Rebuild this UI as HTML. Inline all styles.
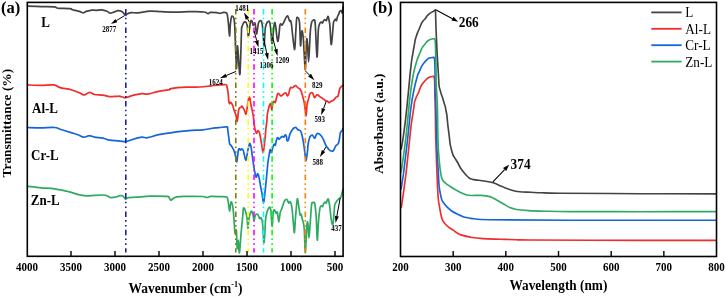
<!DOCTYPE html>
<html><head><meta charset="utf-8"><style>
html,body{margin:0;padding:0;background:#fff;}
body{width:725px;height:297px;overflow:hidden;}
svg{display:block;font-family:"Liberation Serif",serif;will-change:transform;}
</style></head><body>
<svg width="725" height="297" viewBox="0 0 725 297">
<g transform="translate(0,0.4)">
<path d="M27.50,186.00 C29.72,186.23 36.28,186.98 40.80,187.40 C45.32,187.82 50.00,187.85 54.60,188.50 C59.20,189.15 63.80,190.22 68.40,191.30 C73.00,192.38 78.75,194.32 82.20,195.00 C85.65,195.68 85.65,195.47 89.10,195.40 C92.55,195.33 99.68,194.50 102.90,194.60 C106.12,194.70 107.25,195.58 108.40,196.00 C109.55,196.42 108.65,196.97 109.80,197.10 C110.95,197.23 113.70,197.08 115.30,196.80 C116.90,196.52 118.13,195.62 119.40,195.40 C120.67,195.18 121.88,194.95 122.90,195.50 C123.92,196.05 124.60,198.40 125.50,198.70 C126.40,199.00 126.45,197.62 128.30,197.30 C130.15,196.98 132.93,197.07 136.60,196.80 C140.27,196.53 145.25,195.83 150.30,195.70 C155.35,195.57 163.78,195.77 166.90,196.00 C170.02,196.23 168.35,196.47 169.00,197.10 C169.65,197.73 170.23,199.53 170.80,199.80 C171.37,200.07 171.43,199.27 172.40,198.70 C173.37,198.13 174.30,196.85 176.60,196.40 C178.90,195.95 181.83,196.05 186.20,196.00 C190.57,195.95 199.35,195.92 202.80,196.10 C206.25,196.28 205.53,197.12 206.90,197.10 C208.27,197.08 208.82,196.15 211.00,196.00 C213.18,195.85 217.38,196.08 220.00,196.20 C222.62,196.32 225.35,195.90 226.70,196.70 C228.05,197.50 227.62,198.70 228.10,201.00 C228.58,203.30 229.20,210.00 229.60,210.50 C230.00,211.00 230.20,205.50 230.50,204.00 C230.80,202.50 231.00,201.02 231.40,201.50 C231.80,201.98 232.47,203.98 232.90,206.90 C233.33,209.82 233.68,214.93 234.00,219.00 C234.32,223.07 234.53,228.83 234.80,231.30 C235.07,233.77 235.33,234.02 235.60,233.80 C235.87,233.58 236.13,227.63 236.40,230.00 C236.67,232.37 236.90,246.33 237.20,248.00 C237.50,249.67 237.83,239.27 238.20,240.00 C238.57,240.73 238.93,253.43 239.40,252.40 C239.87,251.37 240.43,240.05 241.00,233.80 C241.57,227.55 242.38,219.27 242.80,214.90 C243.22,210.53 243.08,208.37 243.50,207.60 C243.92,206.83 244.72,208.68 245.30,210.30 C245.88,211.92 246.57,214.38 247.00,217.30 C247.43,220.22 247.60,227.52 247.90,227.80 C248.20,228.08 248.35,221.63 248.80,219.00 C249.25,216.37 250.07,213.32 250.60,212.00 C251.13,210.68 251.57,210.52 252.00,211.10 C252.43,211.68 252.85,213.98 253.20,215.50 C253.55,217.02 253.75,220.28 254.10,220.20 C254.45,220.12 254.72,216.07 255.30,215.00 C255.88,213.93 256.87,213.27 257.60,213.80 C258.33,214.33 259.12,217.62 259.70,218.20 C260.28,218.78 260.63,216.58 261.10,217.30 C261.57,218.02 262.03,218.42 262.50,222.50 C262.97,226.58 263.52,240.03 263.90,241.80 C264.28,243.57 264.52,236.90 264.80,233.10 C265.08,229.30 265.25,222.52 265.60,219.00 C265.95,215.48 266.45,213.75 266.90,212.00 C267.35,210.25 267.83,209.37 268.30,208.50 C268.77,207.63 269.27,206.50 269.70,206.80 C270.13,207.10 270.50,207.10 270.90,210.30 C271.30,213.50 271.72,225.72 272.10,226.00 C272.48,226.28 272.82,214.77 273.20,212.00 C273.58,209.23 273.90,209.25 274.40,209.40 C274.90,209.55 275.70,212.47 276.20,212.90 C276.70,213.33 276.97,210.53 277.40,212.00 C277.83,213.47 278.33,221.70 278.80,221.70 C279.27,221.70 279.77,214.05 280.20,212.00 C280.63,209.95 280.98,210.47 281.40,209.40 C281.82,208.33 282.17,207.12 282.70,205.60 C283.23,204.08 283.90,201.38 284.60,200.30 C285.30,199.22 286.22,198.72 286.90,199.10 C287.58,199.48 288.13,202.22 288.70,202.60 C289.27,202.98 289.77,200.65 290.30,201.40 C290.83,202.15 291.40,203.67 291.90,207.10 C292.40,210.53 292.88,217.80 293.30,222.00 C293.72,226.20 294.03,233.07 294.40,232.30 C294.77,231.53 295.07,222.75 295.50,217.40 C295.93,212.05 296.62,203.17 297.00,200.20 C297.38,197.23 297.45,198.22 297.80,199.60 C298.15,200.98 298.70,205.97 299.10,208.50 C299.50,211.03 299.85,213.93 300.20,214.80 C300.55,215.67 300.85,213.02 301.20,213.70 C301.55,214.38 301.95,217.52 302.30,218.90 C302.65,220.28 302.97,220.27 303.30,222.00 C303.63,223.73 303.95,224.25 304.30,229.30 C304.65,234.35 304.98,252.98 305.40,252.30 C305.82,251.62 306.38,230.07 306.80,225.20 C307.22,220.33 307.55,221.02 307.90,223.10 C308.25,225.18 308.52,237.70 308.90,237.70 C309.28,237.70 309.75,228.67 310.20,223.10 C310.65,217.53 311.12,207.77 311.60,204.30 C312.08,200.83 312.57,202.47 313.10,202.30 C313.63,202.13 314.28,200.88 314.80,203.30 C315.32,205.72 315.78,210.72 316.20,216.80 C316.62,222.88 316.92,239.10 317.30,239.80 C317.68,240.50 318.05,226.38 318.50,221.00 C318.95,215.62 319.52,210.10 320.00,207.50 C320.48,204.90 320.97,205.60 321.40,205.40 C321.83,205.20 322.25,206.62 322.60,206.30 C322.95,205.98 323.10,204.27 323.50,203.50 C323.90,202.73 324.53,201.85 325.00,201.70 C325.47,201.55 325.87,203.07 326.30,202.60 C326.73,202.13 327.20,199.37 327.60,198.90 C328.00,198.43 328.30,198.27 328.70,199.80 C329.10,201.33 329.63,205.32 330.00,208.10 C330.37,210.88 330.58,214.02 330.90,216.50 C331.22,218.98 331.58,221.77 331.90,223.00 C332.22,224.23 332.50,224.83 332.80,223.90 C333.10,222.97 333.40,220.48 333.70,217.40 C334.00,214.32 334.28,207.87 334.60,205.40 C334.92,202.93 335.13,203.53 335.60,202.60 C336.07,201.67 336.78,200.57 337.40,199.80 C338.02,199.03 338.68,198.62 339.30,198.00 C339.92,197.38 340.48,197.65 341.10,196.10 C341.72,194.55 342.68,189.93 343.00,188.70" fill="none" stroke="#2EAA63" stroke-width="1.7" stroke-linejoin="round" stroke-linecap="round"/>
<path d="M27.50,127.10 C29.72,127.15 36.28,127.40 40.80,127.40 C45.32,127.40 51.38,126.87 54.60,127.10 C57.82,127.33 57.35,127.95 60.10,128.80 C62.85,129.65 68.12,131.28 71.10,132.20 C74.08,133.12 75.92,133.53 78.00,134.30 C80.08,135.07 81.98,136.57 83.60,136.80 C85.22,137.03 86.57,135.93 87.70,135.70 C88.83,135.47 89.25,135.22 90.40,135.40 C91.55,135.58 92.52,136.40 94.60,136.80 C96.68,137.20 100.37,137.30 102.90,137.80 C105.43,138.30 107.28,139.35 109.80,139.80 C112.32,140.25 115.48,140.27 118.00,140.50 C120.52,140.73 123.53,141.08 124.90,141.20 C126.27,141.32 124.72,141.62 126.20,141.20 C127.68,140.78 131.15,139.43 133.80,138.70 C136.45,137.97 139.80,137.03 142.10,136.80 C144.40,136.57 144.85,137.72 147.60,137.30 C150.35,136.88 154.00,135.22 158.60,134.30 C163.20,133.38 171.52,132.37 175.20,131.80 C178.88,131.23 177.95,131.22 180.70,130.90 C183.45,130.58 188.02,130.13 191.70,129.90 C195.38,129.67 199.58,129.80 202.80,129.50 C206.02,129.20 208.70,128.45 211.00,128.10 C213.30,127.75 215.10,127.57 216.60,127.40 C218.10,127.23 218.27,127.25 220.00,127.10 C221.73,126.95 225.72,126.15 227.00,126.50 C228.28,126.85 227.40,127.40 227.70,129.20 C228.00,131.00 228.47,134.92 228.80,137.30 C229.13,139.68 229.32,142.20 229.70,143.50 C230.08,144.80 230.65,144.50 231.10,145.10 C231.55,145.70 231.95,146.32 232.40,147.10 C232.85,147.88 233.35,148.67 233.80,149.80 C234.25,150.93 234.73,152.43 235.10,153.90 C235.47,155.37 235.70,157.37 236.00,158.60 C236.30,159.83 236.60,162.08 236.90,161.30 C237.20,160.52 237.53,155.93 237.80,153.90 C238.07,151.87 238.22,150.00 238.50,149.10 C238.78,148.20 239.17,148.38 239.50,148.50 C239.83,148.62 240.12,149.80 240.50,149.80 C240.88,149.80 241.35,148.50 241.80,148.50 C242.25,148.50 242.75,148.68 243.20,149.80 C243.65,150.92 244.05,153.52 244.50,155.20 C244.95,156.88 245.48,159.90 245.90,159.90 C246.32,159.90 246.67,156.88 247.00,155.20 C247.33,153.52 247.57,151.48 247.90,149.80 C248.23,148.12 248.67,146.22 249.00,145.10 C249.33,143.98 249.58,142.98 249.90,143.10 C250.22,143.22 250.57,144.23 250.90,145.80 C251.23,147.37 251.55,150.03 251.90,152.50 C252.25,154.97 252.65,158.13 253.00,160.60 C253.35,163.07 253.60,164.93 254.00,167.30 C254.40,169.67 255.00,173.22 255.40,174.80 C255.80,176.38 256.07,177.02 256.40,176.80 C256.73,176.58 257.05,173.83 257.40,173.50 C257.75,173.17 258.17,173.90 258.50,174.80 C258.83,175.70 259.02,176.88 259.40,178.90 C259.78,180.92 260.35,184.43 260.80,186.90 C261.25,189.37 261.63,191.07 262.10,193.70 C262.57,196.33 263.15,202.70 263.60,202.70 C264.05,202.70 264.37,197.45 264.80,193.70 C265.23,189.95 265.78,184.47 266.20,180.20 C266.62,175.93 266.97,171.47 267.30,168.10 C267.63,164.73 267.83,162.63 268.20,160.00 C268.57,157.37 269.17,154.13 269.50,152.30 C269.83,150.47 269.93,149.00 270.20,149.00 C270.47,149.00 270.77,152.20 271.10,152.30 C271.43,152.40 271.85,150.72 272.20,149.60 C272.55,148.48 272.87,146.60 273.20,145.60 C273.53,144.60 273.85,143.72 274.20,143.60 C274.55,143.48 274.95,145.47 275.30,144.90 C275.65,144.33 275.92,141.48 276.30,140.20 C276.68,138.92 277.15,137.42 277.60,137.20 C278.05,136.98 278.48,138.90 279.00,138.90 C279.52,138.90 280.15,137.70 280.70,137.20 C281.25,136.70 281.80,135.97 282.30,135.90 C282.80,135.83 283.20,137.03 283.70,136.80 C284.20,136.57 284.85,134.60 285.30,134.50 C285.75,134.40 286.12,135.25 286.40,136.20 C286.68,137.15 286.67,139.65 287.00,140.20 C287.33,140.75 287.90,140.62 288.40,139.50 C288.90,138.38 289.32,135.25 290.00,133.50 C290.68,131.75 291.75,130.03 292.50,129.00 C293.25,127.97 293.92,127.63 294.50,127.30 C295.08,126.97 295.53,126.77 296.00,127.00 C296.47,127.23 296.85,128.25 297.30,128.70 C297.75,129.15 298.25,129.47 298.70,129.70 C299.15,129.93 299.62,129.82 300.00,130.10 C300.38,130.38 300.65,130.52 301.00,131.40 C301.35,132.28 301.75,133.93 302.10,135.40 C302.45,136.87 302.75,138.27 303.10,140.20 C303.45,142.13 303.85,144.53 304.20,147.00 C304.55,149.47 304.90,152.83 305.20,155.00 C305.50,157.17 305.73,159.83 306.00,160.00 C306.27,160.17 306.53,157.67 306.80,156.00 C307.07,154.33 307.38,152.00 307.60,150.00 C307.82,148.00 307.78,146.08 308.10,144.00 C308.42,141.92 309.05,138.93 309.50,137.50 C309.95,136.07 310.30,135.85 310.80,135.40 C311.30,134.95 312.00,134.57 312.50,134.80 C313.00,135.03 313.40,136.30 313.80,136.80 C314.20,137.30 314.55,138.08 314.90,137.80 C315.25,137.52 315.52,135.88 315.90,135.10 C316.28,134.32 316.70,133.38 317.20,133.10 C317.70,132.82 318.28,133.07 318.90,133.40 C319.52,133.73 320.28,134.42 320.90,135.10 C321.52,135.78 322.15,136.77 322.60,137.50 C323.05,138.23 323.10,138.35 323.60,139.50 C324.10,140.65 325.02,143.20 325.60,144.40 C326.18,145.60 326.60,145.95 327.10,146.70 C327.60,147.45 328.05,148.28 328.60,148.90 C329.15,149.52 329.78,150.10 330.40,150.40 C331.02,150.70 331.80,150.70 332.30,150.70 C332.80,150.70 333.03,150.83 333.40,150.40 C333.77,149.97 334.07,148.97 334.50,148.10 C334.93,147.23 335.50,145.87 336.00,145.20 C336.50,144.53 337.07,144.60 337.50,144.10 C337.93,143.60 338.30,142.97 338.60,142.20 C338.90,141.43 339.00,141.18 339.30,139.50 C339.60,137.82 339.98,133.57 340.40,132.10 C340.82,130.63 341.35,131.38 341.80,130.70 C342.25,130.02 342.88,128.45 343.10,128.00" fill="none" stroke="#1565DA" stroke-width="1.7" stroke-linejoin="round" stroke-linecap="round"/>
<path d="M27.50,84.50 C29.72,84.57 36.40,84.90 40.80,84.90 C45.20,84.90 50.68,84.12 53.90,84.50 C57.12,84.88 57.23,86.40 60.10,87.20 C62.97,88.00 67.88,88.45 71.10,89.30 C74.32,90.15 77.32,91.42 79.40,92.30 C81.48,93.18 82.22,94.52 83.60,94.60 C84.98,94.68 86.57,93.22 87.70,92.80 C88.83,92.38 89.25,91.88 90.40,92.10 C91.55,92.32 92.52,93.65 94.60,94.10 C96.68,94.55 100.37,94.45 102.90,94.80 C105.43,95.15 107.50,96.02 109.80,96.20 C112.10,96.38 115.00,95.95 116.70,95.90 C118.40,95.85 118.85,95.73 120.00,95.90 C121.15,96.07 122.68,96.67 123.60,96.90 C124.52,97.13 123.80,97.65 125.50,97.30 C127.20,96.95 131.03,95.48 133.80,94.80 C136.57,94.12 139.80,93.38 142.10,93.20 C144.40,93.02 144.85,94.07 147.60,93.70 C150.35,93.33 154.92,91.73 158.60,91.00 C162.28,90.27 167.63,89.77 169.70,89.30 C171.77,88.83 168.25,88.62 171.00,88.20 C173.75,87.78 181.37,87.07 186.20,86.80 C191.03,86.53 195.87,86.83 200.00,86.60 C204.13,86.37 207.67,85.75 211.00,85.40 C214.33,85.05 217.48,84.67 220.00,84.50 C222.52,84.33 224.93,84.08 226.10,84.40 C227.27,84.72 226.67,85.05 227.00,86.40 C227.33,87.75 227.80,90.13 228.10,92.50 C228.40,94.87 228.58,98.80 228.80,100.60 C229.02,102.40 229.12,103.08 229.40,103.30 C229.68,103.52 230.17,102.02 230.50,101.90 C230.83,101.78 231.02,102.03 231.40,102.60 C231.78,103.17 232.35,104.07 232.80,105.30 C233.25,106.53 233.65,108.65 234.10,110.00 C234.55,111.35 235.12,112.22 235.50,113.40 C235.88,114.58 236.13,115.80 236.40,117.10 C236.67,118.40 236.87,121.20 237.10,121.20 C237.33,121.20 237.57,118.90 237.80,117.10 C238.03,115.30 238.22,111.97 238.50,110.40 C238.78,108.83 239.10,108.27 239.50,107.70 C239.90,107.13 240.52,107.33 240.90,107.00 C241.28,106.67 241.42,105.58 241.80,105.70 C242.18,105.82 242.68,106.80 243.20,107.70 C243.72,108.60 244.45,110.08 244.90,111.10 C245.35,112.12 245.58,113.92 245.90,113.80 C246.22,113.68 246.47,112.38 246.80,110.40 C247.13,108.42 247.53,104.10 247.90,101.90 C248.27,99.70 248.67,97.87 249.00,97.20 C249.33,96.53 249.57,96.67 249.90,97.90 C250.23,99.13 250.65,102.75 251.00,104.60 C251.35,106.45 251.62,107.13 252.00,109.00 C252.38,110.87 252.97,113.55 253.30,115.80 C253.63,118.05 253.73,120.37 254.00,122.50 C254.27,124.63 254.57,127.03 254.90,128.60 C255.23,130.17 255.70,131.20 256.00,131.90 C256.30,132.60 256.35,133.10 256.70,132.80 C257.05,132.50 257.65,130.22 258.10,130.10 C258.55,129.98 258.95,130.63 259.40,132.10 C259.85,133.57 260.35,136.43 260.80,138.90 C261.25,141.37 261.72,144.67 262.10,146.90 C262.48,149.13 262.77,152.30 263.10,152.30 C263.43,152.30 263.77,149.37 264.10,146.90 C264.43,144.43 264.80,140.63 265.10,137.50 C265.40,134.37 265.62,130.80 265.90,128.10 C266.18,125.40 266.55,123.70 266.80,121.30 C267.05,118.90 267.12,115.87 267.40,113.70 C267.68,111.53 268.10,109.88 268.50,108.30 C268.90,106.72 269.40,104.98 269.80,104.20 C270.20,103.42 270.57,102.70 270.90,103.60 C271.23,104.50 271.48,109.72 271.80,109.60 C272.12,109.48 272.45,104.35 272.80,102.90 C273.15,101.45 273.50,101.02 273.90,100.90 C274.30,100.78 274.80,102.65 275.20,102.20 C275.60,101.75 275.90,99.65 276.30,98.20 C276.70,96.75 277.15,94.28 277.60,93.50 C278.05,92.72 278.50,93.17 279.00,93.50 C279.50,93.83 280.00,95.33 280.60,95.50 C281.20,95.67 281.93,94.95 282.60,94.50 C283.27,94.05 284.03,93.08 284.60,92.80 C285.17,92.52 285.55,92.35 286.00,92.80 C286.45,93.25 286.85,95.38 287.30,95.50 C287.75,95.62 288.20,94.85 288.70,93.50 C289.20,92.15 289.75,88.42 290.30,87.40 C290.85,86.38 291.48,87.52 292.00,87.40 C292.52,87.28 292.90,87.05 293.40,86.70 C293.90,86.35 294.57,85.53 295.00,85.30 C295.43,85.07 295.50,84.95 296.00,85.30 C296.50,85.65 297.33,86.83 298.00,87.40 C298.67,87.97 299.43,88.03 300.00,88.70 C300.57,89.37 300.95,90.17 301.40,91.40 C301.85,92.63 302.25,94.42 302.70,96.10 C303.15,97.78 303.70,99.52 304.10,101.50 C304.50,103.48 304.80,105.67 305.10,108.00 C305.40,110.33 305.67,115.00 305.90,115.50 C306.13,116.00 306.30,112.92 306.50,111.00 C306.70,109.08 306.77,106.03 307.10,104.00 C307.43,101.97 308.10,100.33 308.50,98.80 C308.90,97.27 309.17,95.80 309.50,94.80 C309.83,93.80 310.05,93.20 310.50,92.80 C310.95,92.40 311.75,92.18 312.20,92.40 C312.65,92.62 312.82,93.32 313.20,94.10 C313.58,94.88 314.12,96.77 314.50,97.10 C314.88,97.43 315.10,96.55 315.50,96.10 C315.90,95.65 316.45,94.62 316.90,94.40 C317.35,94.18 317.65,94.45 318.20,94.80 C318.75,95.15 319.52,96.00 320.20,96.50 C320.88,97.00 321.62,97.35 322.30,97.80 C322.98,98.25 323.68,98.70 324.30,99.20 C324.92,99.70 325.50,100.58 326.00,100.80 C326.50,101.02 326.80,100.27 327.30,100.50 C327.80,100.73 328.38,102.15 329.00,102.20 C329.62,102.25 330.33,101.13 331.00,100.80 C331.67,100.47 332.38,100.58 333.00,100.20 C333.62,99.82 334.13,99.12 334.70,98.50 C335.27,97.88 335.88,96.90 336.40,96.50 C336.92,96.10 337.40,96.72 337.80,96.10 C338.20,95.48 338.47,94.15 338.80,92.80 C339.13,91.45 339.35,89.13 339.80,88.00 C340.25,86.87 340.95,86.55 341.50,86.00 C342.05,85.45 342.83,84.92 343.10,84.70" fill="none" stroke="#F22B2B" stroke-width="1.7" stroke-linejoin="round" stroke-linecap="round"/>
<path d="M27.50,5.70 C29.75,5.78 36.48,6.07 41.00,6.20 C45.52,6.33 52.02,6.30 54.60,6.50 C57.18,6.70 55.68,7.17 56.50,7.40 C57.32,7.63 57.25,7.77 59.50,7.90 C61.75,8.03 67.83,7.95 70.00,8.20 C72.17,8.45 71.62,9.10 72.50,9.40 C73.38,9.70 74.15,9.73 75.30,10.00 C76.45,10.27 78.13,10.60 79.40,11.00 C80.67,11.40 81.75,12.40 82.90,12.40 C84.05,12.40 84.82,11.45 86.30,11.00 C87.78,10.55 90.18,9.88 91.80,9.70 C93.42,9.52 94.38,9.95 96.00,9.90 C97.62,9.85 99.67,9.25 101.50,9.40 C103.33,9.55 105.62,10.25 107.00,10.80 C108.38,11.35 108.65,12.55 109.80,12.70 C110.95,12.85 112.53,12.10 113.90,11.70 C115.27,11.30 116.62,10.37 118.00,10.30 C119.38,10.23 121.17,10.77 122.20,11.30 C123.23,11.83 123.65,12.88 124.20,13.50 C124.75,14.12 125.03,14.98 125.50,15.00 C125.97,15.02 126.08,14.05 127.00,13.60 C127.92,13.15 129.18,12.50 131.00,12.30 C132.82,12.10 134.68,12.65 137.90,12.40 C141.12,12.15 146.38,10.98 150.30,10.80 C154.22,10.62 157.25,11.15 161.40,11.30 C165.55,11.45 170.60,11.72 175.20,11.70 C179.80,11.68 185.53,11.27 189.00,11.20 C192.47,11.13 193.53,11.23 196.00,11.30 C198.47,11.37 202.13,11.47 203.80,11.60 C205.47,11.73 205.27,11.82 206.00,12.10 C206.73,12.38 207.45,13.32 208.20,13.30 C208.95,13.28 209.12,12.18 210.50,12.00 C211.88,11.82 214.95,12.05 216.50,12.20 C218.05,12.35 218.80,12.90 219.80,12.90 C220.80,12.90 221.57,12.32 222.50,12.20 C223.43,12.08 224.63,11.98 225.40,12.20 C226.17,12.42 226.62,11.87 227.10,13.50 C227.58,15.13 227.90,18.33 228.30,22.00 C228.70,25.67 229.17,35.08 229.50,35.50 C229.83,35.92 229.98,27.62 230.30,24.50 C230.62,21.38 230.98,18.23 231.40,16.80 C231.82,15.37 232.35,15.55 232.80,15.90 C233.25,16.25 233.77,17.07 234.10,18.90 C234.43,20.73 234.57,22.42 234.80,26.90 C235.03,31.38 235.22,38.95 235.50,45.80 C235.78,52.65 236.20,67.80 236.50,68.00 C236.80,68.20 237.05,50.00 237.30,47.00 C237.55,44.00 237.60,45.50 238.00,50.00 C238.40,54.50 239.27,72.33 239.70,74.00 C240.13,75.67 240.30,67.33 240.60,60.00 C240.90,52.67 241.28,35.52 241.50,30.00 C241.72,24.48 241.60,28.08 241.90,26.90 C242.20,25.72 242.80,23.80 243.30,22.90 C243.80,22.00 244.42,21.62 244.90,21.50 C245.38,21.38 245.80,21.52 246.20,22.20 C246.60,22.88 247.02,23.92 247.30,25.60 C247.58,27.28 247.72,30.50 247.90,32.30 C248.08,34.10 248.18,36.62 248.40,36.40 C248.62,36.18 248.90,33.23 249.20,31.00 C249.50,28.77 249.88,24.82 250.20,23.00 C250.52,21.18 250.77,20.35 251.10,20.10 C251.43,19.85 251.85,20.68 252.20,21.50 C252.55,22.32 252.85,24.83 253.20,25.00 C253.55,25.17 253.95,22.67 254.30,22.50 C254.65,22.33 254.93,22.17 255.30,24.00 C255.67,25.83 256.12,32.83 256.50,33.50 C256.88,34.17 257.25,29.92 257.60,28.00 C257.95,26.08 258.17,23.28 258.60,22.00 C259.03,20.72 259.72,20.47 260.20,20.30 C260.68,20.13 261.12,20.05 261.50,21.00 C261.88,21.95 262.20,23.50 262.50,26.00 C262.80,28.50 263.03,32.75 263.30,36.00 C263.57,39.25 263.80,46.68 264.10,45.50 C264.40,44.32 264.72,32.57 265.10,28.90 C265.48,25.23 265.95,24.75 266.40,23.50 C266.85,22.25 267.35,21.85 267.80,21.40 C268.25,20.95 268.72,20.45 269.10,20.80 C269.48,21.15 269.75,21.27 270.10,23.50 C270.45,25.73 270.92,31.07 271.20,34.20 C271.48,37.33 271.58,41.17 271.80,42.30 C272.02,43.43 272.15,43.68 272.50,41.00 C272.85,38.32 273.50,29.35 273.90,26.20 C274.30,23.05 274.57,21.88 274.90,22.10 C275.23,22.32 275.58,25.25 275.90,27.50 C276.22,29.75 276.47,33.35 276.80,35.60 C277.13,37.85 277.53,41.23 277.90,41.00 C278.27,40.77 278.67,36.90 279.00,34.20 C279.33,31.50 279.58,26.58 279.90,24.80 C280.22,23.02 280.57,23.50 280.90,23.50 C281.23,23.50 281.50,24.92 281.90,24.80 C282.30,24.68 282.85,23.58 283.30,22.80 C283.75,22.02 284.12,21.12 284.60,20.10 C285.08,19.08 285.70,17.48 286.20,16.70 C286.70,15.92 287.18,15.17 287.60,15.40 C288.02,15.63 288.35,17.20 288.70,18.10 C289.05,19.00 289.37,20.42 289.70,20.80 C290.03,21.18 290.38,19.73 290.70,20.40 C291.02,21.07 291.27,22.27 291.60,24.80 C291.93,27.33 292.18,31.52 292.70,35.60 C293.22,39.68 294.22,49.40 294.70,49.30 C295.18,49.20 295.28,40.10 295.60,35.00 C295.92,29.90 296.27,21.67 296.60,18.70 C296.93,15.73 297.27,17.28 297.60,17.20 C297.93,17.12 298.27,17.18 298.60,18.20 C298.93,19.22 299.28,18.80 299.60,23.30 C299.92,27.80 300.22,43.08 300.50,45.20 C300.78,47.32 301.03,38.47 301.30,36.00 C301.57,33.53 301.77,30.07 302.10,30.40 C302.43,30.73 302.78,31.57 303.30,38.00 C303.82,44.43 304.75,66.67 305.20,69.00 C305.65,71.33 305.73,57.08 306.00,52.00 C306.27,46.92 306.53,39.67 306.80,38.50 C307.07,37.33 307.30,41.18 307.60,45.00 C307.90,48.82 308.27,61.40 308.60,61.40 C308.93,61.40 309.30,50.23 309.60,45.00 C309.90,39.77 310.05,33.88 310.40,30.00 C310.75,26.12 311.30,23.33 311.70,21.70 C312.10,20.07 312.37,20.53 312.80,20.20 C313.23,19.87 313.88,19.02 314.30,19.70 C314.72,20.38 314.85,18.13 315.30,24.30 C315.75,30.47 316.50,55.75 317.00,56.70 C317.50,57.65 317.92,35.40 318.30,30.00 C318.68,24.60 318.97,25.60 319.30,24.30 C319.63,23.00 319.97,22.63 320.30,22.20 C320.63,21.77 320.95,21.62 321.30,21.70 C321.65,21.78 322.05,22.87 322.40,22.70 C322.75,22.53 322.98,21.28 323.40,20.70 C323.82,20.12 324.40,19.28 324.90,19.20 C325.40,19.12 325.98,20.53 326.40,20.20 C326.82,19.87 327.10,17.90 327.40,17.20 C327.70,16.50 327.95,15.67 328.20,16.00 C328.45,16.33 328.62,17.65 328.90,19.20 C329.18,20.75 329.53,21.18 329.90,25.30 C330.27,29.42 330.68,42.28 331.10,43.90 C331.52,45.52 332.00,38.65 332.40,35.00 C332.80,31.35 333.15,24.47 333.50,22.00 C333.85,19.53 334.17,20.75 334.50,20.20 C334.83,19.65 335.17,18.70 335.50,18.70 C335.83,18.70 336.17,20.62 336.50,20.20 C336.83,19.78 337.17,17.20 337.50,16.20 C337.83,15.20 338.17,14.97 338.50,14.20 C338.83,13.43 339.15,12.28 339.50,11.60 C339.85,10.92 340.25,10.18 340.60,10.10 C340.95,10.02 341.35,10.68 341.60,11.10 C341.85,11.52 341.93,12.77 342.10,12.60 C342.27,12.43 342.43,11.18 342.60,10.10 C342.77,9.02 343.02,6.77 343.10,6.10" fill="none" stroke="#434343" stroke-width="1.7" stroke-linejoin="round" stroke-linecap="round"/>
</g>
<line x1="125.8" y1="9" x2="125.8" y2="252.5" stroke="#1F1F9A" stroke-width="1.6" stroke-dasharray="5.5 3.2 1.6 3.2 1.6 3.3"/>
<line x1="235.8" y1="9" x2="235.8" y2="252.5" stroke="#808000" stroke-width="1.6" stroke-dasharray="5.5 3.2 1.6 3.2 1.6 3.3"/>
<line x1="248.2" y1="9" x2="248.2" y2="252.5" stroke="#FFFF00" stroke-width="1.6" stroke-dasharray="5.5 3.2 1.6 3.2 1.6 3.3"/>
<line x1="254.0" y1="9" x2="254.0" y2="252.5" stroke="#FF00FF" stroke-width="1.6" stroke-dasharray="5.5 3.2 1.6 3.2 1.6 3.3"/>
<line x1="263.5" y1="9" x2="263.5" y2="252.5" stroke="#00FFFF" stroke-width="1.6" stroke-dasharray="5.5 3.2 1.6 3.2 1.6 3.3"/>
<line x1="272.1" y1="9" x2="272.1" y2="252.5" stroke="#00FF00" stroke-width="1.6" stroke-dasharray="5.5 3.2 1.6 3.2 1.6 3.3"/>
<line x1="305.3" y1="9" x2="305.3" y2="252.5" stroke="#FF8000" stroke-width="1.6" stroke-dasharray="5.5 3.2 1.6 3.2 1.6 3.3"/>
<path d="M401.20,207.50 C401.32,206.92 401.42,207.25 401.90,204.00 C402.38,200.75 403.38,193.33 404.10,188.00 C404.82,182.67 405.57,177.33 406.20,172.00 C406.83,166.67 407.33,161.33 407.90,156.00 C408.47,150.67 409.03,145.33 409.60,140.00 C410.17,134.67 410.60,129.33 411.30,124.00 C412.00,118.67 413.25,111.68 413.80,108.00 C414.35,104.32 414.13,103.83 414.60,101.90 C415.07,99.97 415.90,98.05 416.60,96.40 C417.30,94.75 418.22,93.38 418.80,92.00 C419.38,90.62 419.55,89.38 420.10,88.10 C420.65,86.82 421.32,85.48 422.10,84.30 C422.88,83.12 423.88,82.02 424.80,81.00 C425.72,79.98 426.58,78.90 427.60,78.20 C428.62,77.50 429.88,77.12 430.90,76.80 C431.92,76.48 433.70,76.30 433.70,76.30 C433.70,76.30 434.42,77.38 434.60,80.00 C434.78,82.62 434.68,87.00 434.80,92.00 C434.92,97.00 435.17,103.33 435.30,110.00 C435.43,116.67 435.47,125.67 435.60,132.00 C435.73,138.33 435.93,142.67 436.10,148.00 C436.27,153.33 436.43,159.33 436.60,164.00 C436.77,168.67 436.95,172.33 437.10,176.00 C437.25,179.67 437.28,182.00 437.50,186.00 C437.72,190.00 438.07,196.57 438.40,200.00 C438.73,203.43 439.08,204.18 439.50,206.60 C439.92,209.02 440.43,212.33 440.90,214.50 C441.37,216.67 441.62,218.05 442.30,219.60 C442.98,221.15 443.90,222.50 445.00,223.80 C446.10,225.10 447.42,226.27 448.90,227.40 C450.38,228.53 452.80,229.85 453.90,230.60 C455.00,231.35 454.32,231.18 455.50,231.90 C456.68,232.62 458.23,233.97 461.00,234.90 C463.77,235.83 468.42,236.88 472.10,237.50 C475.78,238.12 478.50,238.32 483.10,238.60 C487.70,238.88 494.18,239.02 499.70,239.20 C505.22,239.38 511.15,239.57 516.20,239.70 C521.25,239.83 509.37,239.88 530.00,240.00 C550.63,240.12 609.00,240.33 640.00,240.40 C671.00,240.47 703.33,240.40 716.00,240.40" fill="none" stroke="#F22B2B" stroke-width="1.65" stroke-linejoin="round" stroke-linecap="round"/>
<path d="M401.10,189.00 C401.18,188.50 401.17,188.83 401.60,186.00 C402.03,183.17 403.03,177.00 403.70,172.00 C404.37,167.00 404.97,161.33 405.60,156.00 C406.23,150.67 406.90,145.33 407.50,140.00 C408.10,134.67 408.63,129.33 409.20,124.00 C409.77,118.67 410.18,113.33 410.90,108.00 C411.62,102.67 412.42,97.33 413.50,92.00 C414.58,86.67 416.38,79.50 417.40,76.00 C418.42,72.50 418.92,72.57 419.60,71.00 C420.28,69.43 420.82,67.88 421.50,66.60 C422.18,65.32 422.78,64.45 423.70,63.30 C424.62,62.15 426.08,60.57 427.00,59.70 C427.92,58.83 428.08,58.52 429.20,58.10 C430.32,57.68 433.70,57.20 433.70,57.20 C433.70,57.20 434.53,56.53 434.80,62.00 C435.07,67.47 435.10,82.00 435.30,90.00 C435.50,98.00 435.82,103.00 436.00,110.00 C436.18,117.00 436.23,125.67 436.40,132.00 C436.57,138.33 436.82,143.33 437.00,148.00 C437.18,152.67 437.32,156.67 437.50,160.00 C437.68,163.33 437.92,165.00 438.10,168.00 C438.28,171.00 438.43,175.00 438.60,178.00 C438.77,181.00 438.85,183.62 439.10,186.00 C439.35,188.38 439.67,190.05 440.10,192.30 C440.53,194.55 441.07,197.67 441.70,199.50 C442.33,201.33 442.98,202.02 443.90,203.30 C444.82,204.58 445.90,205.92 447.20,207.20 C448.50,208.48 450.03,209.85 451.70,211.00 C453.37,212.15 455.55,213.27 457.20,214.10 C458.85,214.93 460.32,215.47 461.60,216.00 C462.88,216.53 463.52,216.93 464.90,217.30 C466.28,217.67 468.38,217.95 469.90,218.20 C471.42,218.45 470.65,218.55 474.00,218.80 C477.35,219.05 474.00,219.47 490.00,219.70 C506.00,219.93 532.33,220.12 570.00,220.20 C607.67,220.28 691.67,220.20 716.00,220.20" fill="none" stroke="#1565DA" stroke-width="1.65" stroke-linejoin="round" stroke-linecap="round"/>
<path d="M401.20,172.00 C401.37,170.83 401.82,167.67 402.20,165.00 C402.58,162.33 402.93,160.17 403.50,156.00 C404.07,151.83 404.97,145.33 405.60,140.00 C406.23,134.67 406.77,129.33 407.30,124.00 C407.83,118.67 408.25,113.33 408.80,108.00 C409.35,102.67 409.90,97.33 410.60,92.00 C411.30,86.67 412.23,80.23 413.00,76.00 C413.77,71.77 414.52,69.27 415.20,66.60 C415.88,63.93 416.50,61.83 417.10,60.00 C417.70,58.17 418.25,56.98 418.80,55.60 C419.35,54.22 419.90,52.90 420.40,51.70 C420.90,50.50 421.33,49.32 421.80,48.40 C422.27,47.48 422.65,46.93 423.20,46.20 C423.75,45.47 424.60,44.65 425.10,44.00 C425.60,43.35 425.70,42.85 426.20,42.30 C426.70,41.75 427.32,41.20 428.10,40.70 C428.88,40.20 429.83,39.67 430.90,39.30 C431.97,38.93 434.50,38.50 434.50,38.50 C434.50,38.50 435.12,39.75 435.30,42.00 C435.48,44.25 435.48,47.67 435.60,52.00 C435.72,56.33 435.90,62.67 436.00,68.00 C436.10,73.33 436.05,79.33 436.20,84.00 C436.35,88.67 436.68,91.67 436.90,96.00 C437.12,100.33 437.35,104.00 437.50,110.00 C437.65,116.00 437.67,125.67 437.80,132.00 C437.93,138.33 438.07,143.33 438.30,148.00 C438.53,152.67 438.92,156.67 439.20,160.00 C439.48,163.33 439.73,165.75 440.00,168.00 C440.27,170.25 440.52,171.85 440.80,173.50 C441.08,175.15 441.33,176.70 441.70,177.90 C442.07,179.10 442.23,179.72 443.00,180.70 C443.77,181.68 445.03,182.78 446.30,183.80 C447.57,184.82 448.97,185.75 450.60,186.80 C452.23,187.85 454.27,189.05 456.10,190.10 C457.93,191.15 459.95,192.32 461.60,193.10 C463.25,193.88 464.35,194.40 466.00,194.80 C467.65,195.20 469.00,195.40 471.50,195.50 C474.00,195.60 477.93,195.22 481.00,195.40 C484.07,195.58 487.30,195.85 489.90,196.60 C492.50,197.35 494.38,198.72 496.60,199.90 C498.82,201.08 500.98,202.42 503.20,203.70 C505.42,204.98 507.68,206.63 509.90,207.60 C512.12,208.57 513.38,209.00 516.50,209.50 C519.62,210.00 523.82,210.32 528.60,210.60 C533.38,210.88 538.30,211.03 545.20,211.20 C552.10,211.37 554.20,211.52 570.00,211.60 C585.80,211.68 615.67,211.70 640.00,211.70 C664.33,211.70 703.33,211.62 716.00,211.60" fill="none" stroke="#2EAA63" stroke-width="1.65" stroke-linejoin="round" stroke-linecap="round"/>
<path d="M401.30,149.00 C401.55,147.50 402.18,144.17 402.80,140.00 C403.42,135.83 404.33,129.33 405.00,124.00 C405.67,118.67 406.23,113.33 406.80,108.00 C407.37,102.67 407.88,97.33 408.40,92.00 C408.92,86.67 409.50,80.05 409.90,76.00 C410.30,71.95 410.50,70.37 410.80,67.70 C411.10,65.03 411.40,62.12 411.70,60.00 C412.00,57.88 412.30,56.75 412.60,55.00 C412.90,53.25 413.18,51.33 413.50,49.50 C413.82,47.67 414.22,45.57 414.50,44.00 C414.78,42.43 414.90,41.38 415.20,40.10 C415.50,38.82 415.88,37.58 416.30,36.30 C416.72,35.02 417.15,33.78 417.70,32.40 C418.25,31.02 419.10,29.20 419.60,28.00 C420.10,26.80 420.33,26.07 420.70,25.20 C421.07,24.33 421.38,23.53 421.80,22.80 C422.22,22.07 422.60,21.53 423.20,20.80 C423.80,20.07 424.77,19.20 425.40,18.40 C426.03,17.60 426.37,16.77 427.00,16.00 C427.63,15.23 428.37,14.45 429.20,13.80 C430.03,13.15 431.00,12.77 432.00,12.10 C433.00,11.43 435.20,9.80 435.20,9.80 C435.20,9.80 435.47,10.97 435.60,14.00 C435.73,17.03 435.82,23.00 436.00,28.00 C436.18,33.00 436.48,39.33 436.70,44.00 C436.92,48.67 437.08,52.00 437.30,56.00 C437.52,60.00 437.78,64.33 438.00,68.00 C438.22,71.67 438.42,75.00 438.60,78.00 C438.78,81.00 438.83,83.93 439.10,86.00 C439.37,88.07 439.83,89.02 440.20,90.40 C440.57,91.78 440.88,93.02 441.30,94.30 C441.72,95.58 442.28,96.82 442.70,98.10 C443.12,99.38 443.38,100.62 443.80,102.00 C444.22,103.38 444.83,104.93 445.20,106.40 C445.57,107.87 445.73,109.42 446.00,110.80 C446.27,112.18 446.48,112.22 446.80,114.70 C447.12,117.18 447.53,122.48 447.90,125.70 C448.27,128.92 448.62,130.90 449.00,134.00 C449.38,137.10 449.68,141.30 450.20,144.30 C450.72,147.30 451.60,150.17 452.10,152.00 C452.60,153.83 452.68,154.20 453.20,155.30 C453.72,156.40 454.42,157.32 455.20,158.60 C455.98,159.88 457.02,161.43 457.90,163.00 C458.78,164.57 459.67,166.62 460.50,168.00 C461.33,169.38 461.95,170.10 462.90,171.30 C463.85,172.50 465.10,174.05 466.20,175.20 C467.30,176.35 468.53,177.53 469.50,178.20 C470.47,178.87 471.00,178.92 472.00,179.20 C473.00,179.48 473.45,179.60 475.50,179.90 C477.55,180.20 481.35,180.52 484.30,181.00 C487.25,181.48 490.25,181.88 493.20,182.80 C496.15,183.72 498.88,185.25 502.00,186.50 C505.12,187.75 508.95,189.42 511.90,190.30 C514.85,191.18 516.57,191.47 519.70,191.80 C522.83,192.13 527.03,192.13 530.70,192.30 C534.37,192.47 536.82,192.65 541.70,192.80 C546.58,192.95 543.62,193.05 560.00,193.20 C576.38,193.35 614.00,193.58 640.00,193.70 C666.00,193.82 703.33,193.87 716.00,193.90" fill="none" stroke="#434343" stroke-width="1.65" stroke-linejoin="round" stroke-linecap="round"/>
<rect x="27.3" y="2.4" width="315.8" height="253.9" fill="none" stroke="#000" stroke-width="1.6"/>
<rect x="400.5" y="2.4" width="316" height="254.1" fill="none" stroke="#000" stroke-width="1.6"/>
<text transform="translate(27,271.0) scale(1.0,1.16)" font-size="11" font-weight="bold" text-anchor="middle" >4000</text>
<line x1="71" y1="256.3" x2="71" y2="251" stroke="#000" stroke-width="1.4"/>
<text transform="translate(71,271.0) scale(1.0,1.16)" font-size="11" font-weight="bold" text-anchor="middle" >3500</text>
<line x1="115" y1="256.3" x2="115" y2="251" stroke="#000" stroke-width="1.4"/>
<text transform="translate(115,271.0) scale(1.0,1.16)" font-size="11" font-weight="bold" text-anchor="middle" >3000</text>
<line x1="159" y1="256.3" x2="159" y2="251" stroke="#000" stroke-width="1.4"/>
<text transform="translate(159,271.0) scale(1.0,1.16)" font-size="11" font-weight="bold" text-anchor="middle" >2500</text>
<line x1="203" y1="256.3" x2="203" y2="251" stroke="#000" stroke-width="1.4"/>
<text transform="translate(203,271.0) scale(1.0,1.16)" font-size="11" font-weight="bold" text-anchor="middle" >2000</text>
<line x1="247" y1="256.3" x2="247" y2="251" stroke="#000" stroke-width="1.4"/>
<text transform="translate(247,271.0) scale(1.0,1.16)" font-size="11" font-weight="bold" text-anchor="middle" >1500</text>
<line x1="291" y1="256.3" x2="291" y2="251" stroke="#000" stroke-width="1.4"/>
<text transform="translate(291,271.0) scale(1.0,1.16)" font-size="11" font-weight="bold" text-anchor="middle" >1000</text>
<line x1="335" y1="256.3" x2="335" y2="251" stroke="#000" stroke-width="1.4"/>
<text transform="translate(335,271.0) scale(1.0,1.16)" font-size="11" font-weight="bold" text-anchor="middle" >500</text>
<text transform="translate(400.50,271.0) scale(1.0,1.16)" font-size="11" font-weight="bold" text-anchor="middle" >200</text>
<line x1="453.17" y1="256.5" x2="453.17" y2="251" stroke="#000" stroke-width="1.4"/>
<text transform="translate(453.17,271.0) scale(1.0,1.16)" font-size="11" font-weight="bold" text-anchor="middle" >300</text>
<line x1="505.84" y1="256.5" x2="505.84" y2="251" stroke="#000" stroke-width="1.4"/>
<text transform="translate(505.84,271.0) scale(1.0,1.16)" font-size="11" font-weight="bold" text-anchor="middle" >400</text>
<line x1="558.51" y1="256.5" x2="558.51" y2="251" stroke="#000" stroke-width="1.4"/>
<text transform="translate(558.51,271.0) scale(1.0,1.16)" font-size="11" font-weight="bold" text-anchor="middle" >500</text>
<line x1="611.18" y1="256.5" x2="611.18" y2="251" stroke="#000" stroke-width="1.4"/>
<text transform="translate(611.18,271.0) scale(1.0,1.16)" font-size="11" font-weight="bold" text-anchor="middle" >600</text>
<line x1="663.85" y1="256.5" x2="663.85" y2="251" stroke="#000" stroke-width="1.4"/>
<text transform="translate(663.85,271.0) scale(1.0,1.16)" font-size="11" font-weight="bold" text-anchor="middle" >700</text>
<text transform="translate(716.52,271.0) scale(1.0,1.16)" font-size="11" font-weight="bold" text-anchor="middle" >800</text>
<text transform="translate(128.5,293) scale(1.015,1.15)" font-size="13.3" font-weight="bold">Wavenumber (cm<tspan font-size="8" dy="-5.5">-1</tspan><tspan dy="5.5">)</tspan></text>
<text transform="translate(509.5,290.0) scale(1.0,1.15)" font-size="13.3" font-weight="bold" text-anchor="start" >Wavelength (nm)</text>
<text transform="translate(11,177.5) rotate(-90)" font-size="13.4" font-weight="bold">Transmittance (%)</text>
<text transform="translate(383.4,173.7) rotate(-90)" font-size="13.2" font-weight="bold">Absorbance (a.u.)</text>
<text transform="translate(0.9,13.4) scale(1.0,0.97)" font-size="16.6" font-weight="bold" text-anchor="start" >(a)</text>
<text x="372.6" y="13.1" font-size="16.6" font-weight="bold" text-anchor="start" >(b)</text>
<text transform="translate(41.3,26.7) scale(1.0,1.1)" font-size="13" font-weight="bold" text-anchor="start" >L</text>
<text transform="translate(32,112.8) scale(1.0,1.1)" font-size="13" font-weight="bold" text-anchor="start" >Al-L</text>
<text transform="translate(31,159.9) scale(1.0,1.1)" font-size="13" font-weight="bold" text-anchor="start" >Cr-L</text>
<text transform="translate(30.8,204.8) scale(1.0,1.1)" font-size="13" font-weight="bold" text-anchor="start" >Zn-L</text>
<line x1="124.5" y1="15.7" x2="116.38" y2="20.60" stroke="#000" stroke-width="1.0"/><path d="M110.9,23.9 L115.40,18.97 L117.36,22.22 Z" fill="#000"/>
<text transform="translate(109.3,32.4) scale(1.0,1.25)" font-size="7" font-weight="bold" text-anchor="middle" >2877</text>
<line x1="236.1" y1="71.4" x2="226.35" y2="75.49" stroke="#000" stroke-width="1.0"/><path d="M219.9,78.2 L225.58,73.65 L227.13,77.33 Z" fill="#000"/>
<text transform="translate(215.7,84.9) scale(1.0,1.25)" font-size="7" font-weight="bold" text-anchor="middle" >1624</text>
<line x1="249.3" y1="22" x2="247.44" y2="18.70" stroke="#000" stroke-width="1.0"/><path d="M244,12.6 L249.18,17.72 L245.70,19.68 Z" fill="#000"/>
<text transform="translate(242.2,10.5) scale(1.0,1.25)" font-size="7" font-weight="bold" text-anchor="middle" >1481</text>
<line x1="254.1" y1="31" x2="256.69" y2="40.64" stroke="#000" stroke-width="1.0"/><path d="M258.5,47.4 L254.75,41.16 L258.62,40.12 Z" fill="#000"/>
<text transform="translate(256.5,54.1) scale(1.0,1.25)" font-size="7" font-weight="bold" text-anchor="middle" >1415</text>
<line x1="263.6" y1="38" x2="266.69" y2="53.04" stroke="#000" stroke-width="1.0"/><path d="M268.1,59.9 L264.73,53.45 L268.65,52.64 Z" fill="#000"/>
<text transform="translate(266.5,68.4) scale(1.0,1.25)" font-size="7" font-weight="bold" text-anchor="middle" >1306</text>
<line x1="272.4" y1="36.8" x2="275.78" y2="49.34" stroke="#000" stroke-width="1.0"/><path d="M277.6,56.1 L273.85,49.86 L277.71,48.82 Z" fill="#000"/>
<text transform="translate(282.3,63.3) scale(1.0,1.25)" font-size="7" font-weight="bold" text-anchor="middle" >1209</text>
<line x1="305.4" y1="70.9" x2="309.53" y2="75.17" stroke="#000" stroke-width="1.0"/><path d="M314.4,80.2 L308.09,76.56 L310.97,73.78 Z" fill="#000"/>
<text transform="translate(317.3,88.2) scale(1.0,1.25)" font-size="7" font-weight="bold" text-anchor="middle" >829</text>
<line x1="326.1" y1="101.7" x2="323.53" y2="108.64" stroke="#000" stroke-width="1.0"/><path d="M321.1,115.2 L321.66,107.94 L325.41,109.33 Z" fill="#000"/>
<text transform="translate(319.7,122.0) scale(1.0,1.25)" font-size="7" font-weight="bold" text-anchor="middle" >593</text>
<line x1="326.1" y1="146.8" x2="323.56" y2="150.93" stroke="#000" stroke-width="1.0"/><path d="M319.9,156.9 L321.86,149.89 L325.27,151.98 Z" fill="#000"/>
<text transform="translate(317.7,164.9) scale(1.0,1.25)" font-size="7" font-weight="bold" text-anchor="middle" >588</text>
<line x1="340.2" y1="198" x2="336.87" y2="216.12" stroke="#000" stroke-width="1.0"/><path d="M335.6,223 L334.90,215.75 L338.83,216.48 Z" fill="#000"/>
<text transform="translate(336.5,231.3) scale(1.0,1.25)" font-size="7" font-weight="bold" text-anchor="middle" >437</text>
<line x1="435.7" y1="9.7" x2="452.46" y2="18.64" stroke="#000" stroke-width="1.1"/><path d="M458.2,21.7 L451.43,20.58 L453.50,16.70 Z" fill="#000"/>
<text transform="translate(458.8,27) scale(1.0,1.14)" font-size="13.3" font-weight="bold" text-anchor="start" >266</text>
<line x1="492.9" y1="181.8" x2="504.62" y2="169.51" stroke="#000" stroke-width="1.1"/><path d="M509.1,164.8 L506.21,171.02 L503.02,167.99 Z" fill="#000"/>
<text transform="translate(510.6,168.8) scale(1.0,1.14)" font-size="13.3" font-weight="bold" text-anchor="start" >374</text>
<line x1="651.3" y1="12.40" x2="681.6" y2="12.40" stroke="#434343" stroke-width="1.8"/>
<text transform="translate(685.3,17.40) scale(1.0,1.1)" font-size="13.2" font-weight="normal" text-anchor="start" >L</text>
<line x1="651.3" y1="28.80" x2="681.6" y2="28.80" stroke="#F22B2B" stroke-width="1.8"/>
<text transform="translate(685.3,33.80) scale(1.0,1.1)" font-size="13.2" font-weight="normal" text-anchor="start" >Al-L</text>
<line x1="651.3" y1="45.20" x2="681.6" y2="45.20" stroke="#1565DA" stroke-width="1.8"/>
<text transform="translate(685.3,50.20) scale(1.0,1.1)" font-size="13.2" font-weight="normal" text-anchor="start" >Cr-L</text>
<line x1="651.3" y1="61.60" x2="681.6" y2="61.60" stroke="#2EAA63" stroke-width="1.8"/>
<text transform="translate(685.3,66.60) scale(1.0,1.1)" font-size="13.2" font-weight="normal" text-anchor="start" >Zn-L</text>
</svg>
</body></html>
